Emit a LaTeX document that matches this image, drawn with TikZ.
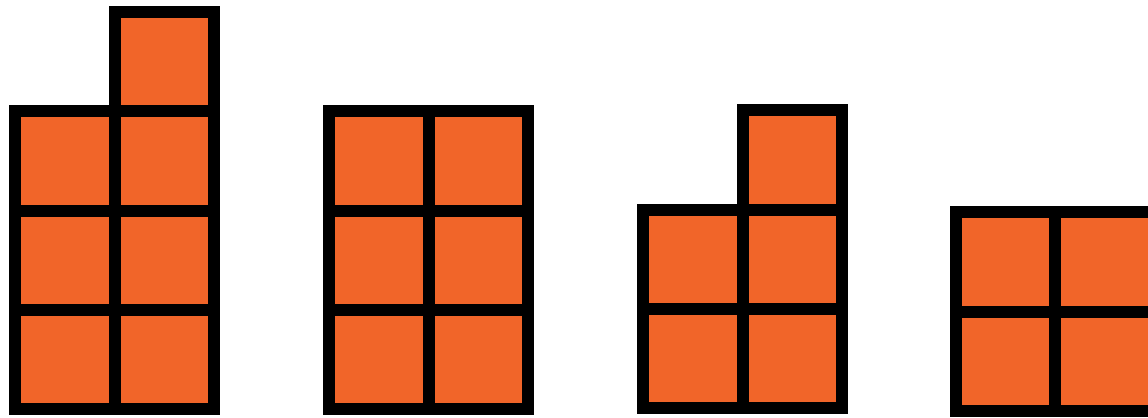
\documentclass[tikz,border=0pt]{standalone}
\usepackage{xcolor}
\usepackage{tikz}
\definecolor{blockorange}{HTML}{F16529}

\begin{document}
\begin{tikzpicture}[x=0.01cm, y=0.01cm,
    cell/.style={fill=blockorange, draw=black, line width=0.12cm, line join=miter}]
  \path[use as bounding box, clip] (0,0) rectangle (1148,417);
  % four stacks of squares: left edge / bottom edge / height of left and right column
  \foreach \gx/\gy/\ha/\hb in {%
      15.3/7.7/3/4,      % tall stack with one on top
      329.3/7.7/3/3,     % the 2 by 3 block
      643.3/8.7/2/3,     % short stack with one on top
      956/6/2/2}{        % 2 by 2, cut at the right edge
    \foreach \r in {1,...,\ha}
      \draw[cell] (\gx,\gy+99.3*\r-99.3) rectangle ++(99.3,99.3);
    \foreach \r in {1,...,\hb}
      \draw[cell] (\gx+99.3,\gy+99.3*\r-99.3) rectangle ++(99.3,99.3);}
\end{tikzpicture}
\end{document}
